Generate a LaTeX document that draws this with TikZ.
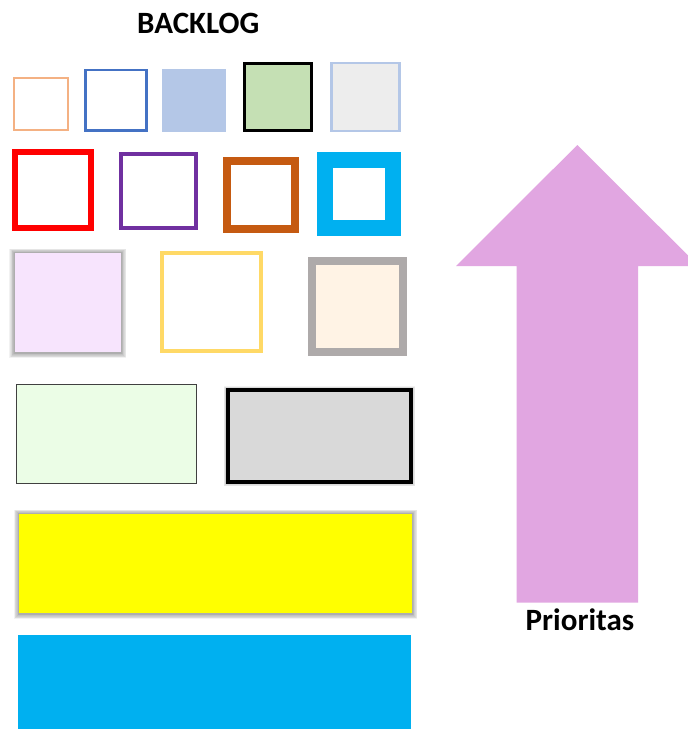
\documentclass[tikz,border=0pt]{standalone}
\usepackage{fontspec}
\setmainfont{Carlito}
\usetikzlibrary{backgrounds}
\definecolor{cOrange}{HTML}{F4B183}
\definecolor{cBlue}{HTML}{4472C4}
\definecolor{cLightBlue}{HTML}{B4C7E7}
\definecolor{cGreen}{HTML}{C5E0B4}
\definecolor{cGrayE}{HTML}{EDEDED}
\definecolor{cRed}{HTML}{FF0000}
\definecolor{cPurple}{HTML}{7030A0}
\definecolor{cBrown}{HTML}{C55A11}
\definecolor{cCyan}{HTML}{00B0F0}
\definecolor{cPink}{HTML}{F7E4FD}
\definecolor{cGold}{HTML}{FFD966}
\definecolor{cGrayA}{HTML}{AEAAAA}
\definecolor{cBeige}{HTML}{FFF3E5}
\definecolor{cMint}{HTML}{EBFDE6}
\definecolor{cGrayD}{HTML}{D9D9D9}
\definecolor{cYellow}{HTML}{FFFF00}
\definecolor{cArrow}{HTML}{E1A6E1}
\tikzset{
  card/.style n args={2}{rectangle, inner sep=0pt, outer sep=0pt, minimum width=#1, minimum height=#2},
  shadowstep/.style={fill=black, opacity=0.05},
  title/.style={font=\fontsize{31}{36}\selectfont\bfseries, inner sep=0pt, anchor=base}
}
\begin{document}
\begin{tikzpicture}[x=1pt,y=-1pt]
\clip (0,0) rectangle (688,729);
\node[title] (backlog) at (198.3,33.3) {BACKLOG};
% row 1
\node[card={53.4pt}{52.3pt}, draw=cOrange, line width=2pt] (o1) at (41,103.85) {};
\node[card={61.1pt}{60.4pt}, draw=cBlue, line width=2.3pt] (b1) at (116,100.35) {};
\node[card={63.7pt}{62.7pt}, fill=cLightBlue] (lb1) at (194.15,100.35) {};
\node[card={67.6pt}{67.3pt}, draw=black, fill=cGreen, line width=3pt] (g1) at (278,97.15) {};
\node[card={68.2pt}{68.1pt}, draw=cLightBlue, fill=cGrayE, line width=2.5pt] (e1) at (365.35,97) {};
% row 2
\node[card={75.7pt}{75.4pt}, draw=cRed, line width=6pt] (r2) at (52.85,190) {};
\node[card={74.7pt}{74.6pt}, draw=cPurple, line width=4pt] (p2) at (158.65,191) {};
\node[card={68pt}{68pt}, draw=cBrown, line width=8pt] (br2) at (260.7,195) {};
\node[card={68pt}{68pt}, draw=cCyan, line width=16pt] (c2) at (358.7,194) {};
% row 3
\node[card={106.3pt}{99.3pt}, fill=cPink] (pk3) at (67.85,302.35) {};
\node[card={98.7pt}{98pt}, draw=cGold, line width=4pt] (y3) at (211.35,302.3) {};
\node[card={91pt}{91pt}, draw=cGrayA, fill=cBeige, line width=8pt] (bg3) at (357.5,306.2) {};
% row 4
\node[card={179.7pt}{98.4pt}, draw=black!75, fill=cMint, line width=1pt] (m4) at (106.35,434) {};
\node[card={182.7pt}{91.4pt}, draw=black, fill=cGrayD, line width=4pt] (d4) at (319.35,436) {};
% row 5
\node[card={393pt}{99.3pt}, fill=cYellow] (y5) at (215.5,563.35) {};
\node[card={393pt}{100pt}, fill=cCyan] (c5) at (214.5,685) {};
% priority arrow
\fill[cArrow] (577.3,145) -- (698.6,266) -- (638,266) -- (638,602.7)
   -- (516.7,602.7) -- (516.7,266) -- (456,266) -- cycle;
\node[title] (prio) at (580,630) {Prioritas};
% soft shadows behind the shadowed cards
\begin{scope}[on background layer]
  \fill[white] (0,0) rectangle (688,729);
  \foreach \n in {pk3,y5} {
    \foreach \i in {1,...,7} {
      \fill[shadowstep] ([shift={(-\i*0.75,-\i*0.6)}]\n.north west)
        rectangle ([shift={(\i*0.75,\i*0.75+0.8)}]\n.south east);
    }
  }
  \foreach \i in {1,...,4} {
    \fill[shadowstep] ([shift={(-2-\i*0.6,-2-\i*0.6)}]d4.north west)
      rectangle ([shift={(2+\i*0.6,2+\i*0.6)}]d4.south east);
  }
\end{scope}
\end{tikzpicture}
\end{document}
